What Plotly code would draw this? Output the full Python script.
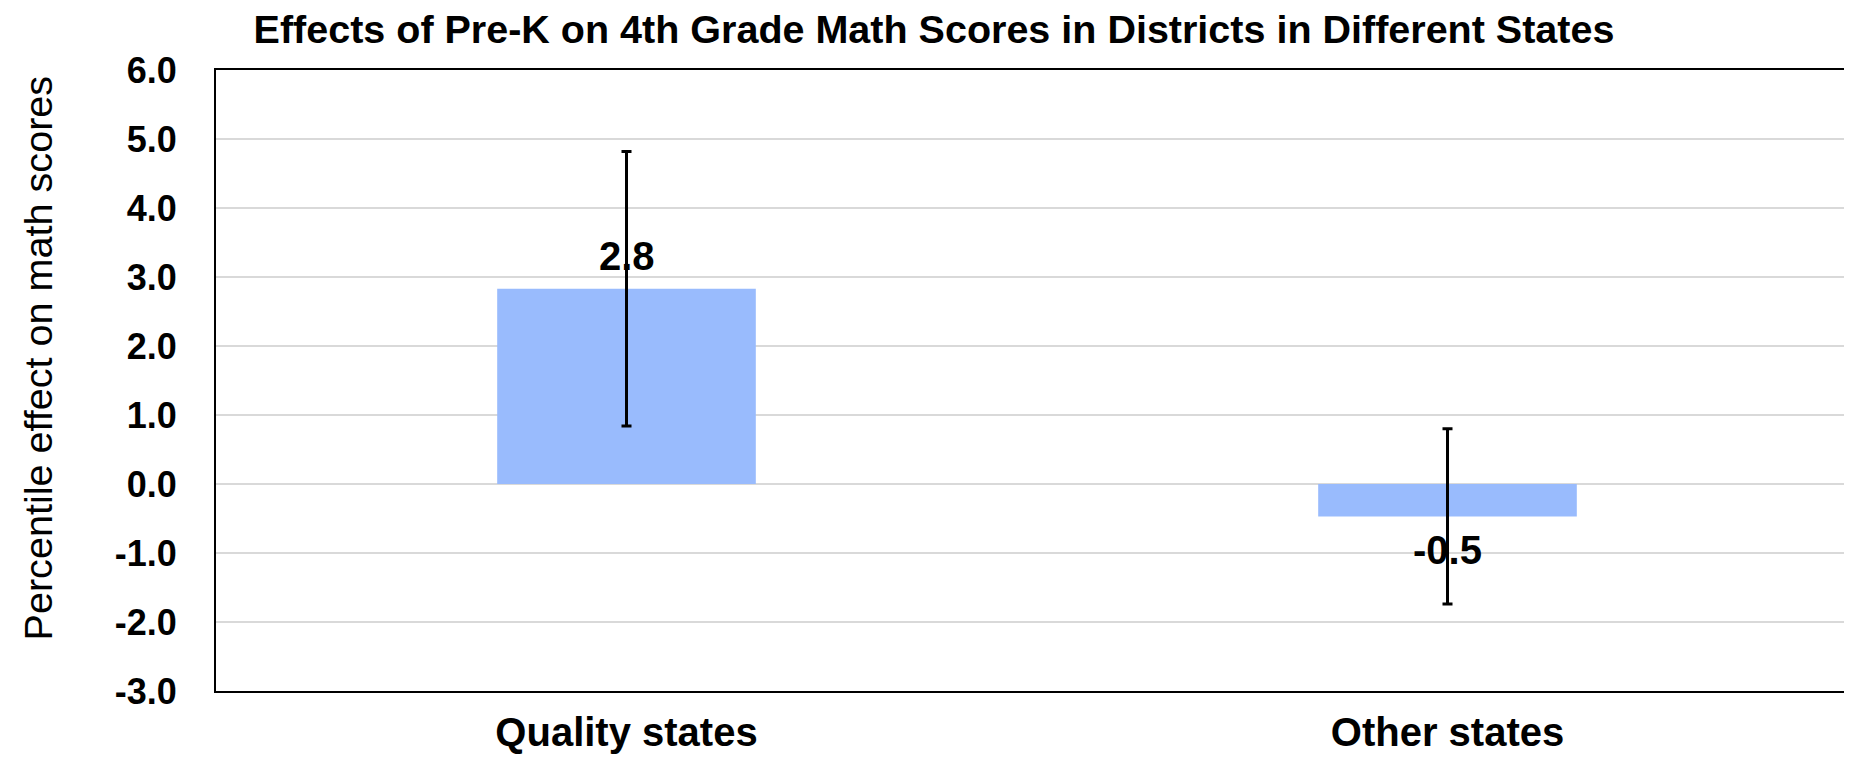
import plotly.graph_objects as go

categories = ["Quality states", "Other states"]
effects = [2.83, -0.47]
errors = [1.99, 1.27]
labels = ["2.8", "-0.5"]
y_ticks = [-3, -2, -1, 0, 1, 2, 3, 4, 5, 6]
y_tick_text = ["-3.0", "-2.0", "-1.0", "0.0", "1.0", "2.0", "3.0", "4.0", "5.0", "6.0"]

FONT = "Arial, Liberation Sans, sans-serif"

fig = go.Figure()
fig.add_trace(go.Bar(
    x=categories,
    y=effects,
    width=0.315,
    marker=dict(color="#99BBFD", line=dict(width=0)),
    error_y=dict(type="data", array=errors, visible=True, color="black",
                 thickness=3, width=5),
    showlegend=False,
))

for cat, val, lab in zip(categories, effects, labels):
    fig.add_annotation(
        x=cat, y=val, text=f"<b>{lab}</b>", showarrow=False,
        yanchor="bottom" if val >= 0 else "top",
        yshift=9 if val >= 0 else -10,
        font=dict(family=FONT, size=40, color="black"),
    )

fig.add_annotation(
    text="Percentile effect on math scores", textangle=-90,
    xref="paper", yref="paper", x=0, y=0.5, xanchor="center", yanchor="middle",
    xshift=-179, yshift=22, showarrow=False,
    font=dict(family=FONT, size=39.6, color="black"),
)

fig.update_layout(
    width=1852, height=757,
    margin=dict(l=208, r=2, t=62, b=74),
    paper_bgcolor="white", plot_bgcolor="white",
    font=dict(family=FONT, color="black"),
    title=dict(text="<b>Effects of Pre-K on 4th Grade Math Scores in Districts in Different States</b>",
               x=0.5, xref="container", xanchor="center",
               y=0.972, yref="container", yanchor="middle",
               font=dict(family=FONT, size=39.5, color="black")),
)
fig.update_xaxes(
    showline=True, linecolor="black", linewidth=2, mirror=True,
    tickfont=dict(family=FONT, size=40, color="black", weight="bold"),
    ticks="outside", ticklen=5, tickcolor="rgba(0,0,0,0)",
    showgrid=False, automargin=False,
)
fig.update_yaxes(
    range=[-3, 6], tickvals=y_ticks, ticktext=y_tick_text,
    showline=True, linecolor="black", linewidth=2, mirror=True,
    showgrid=True, gridcolor="#D9D9D9", gridwidth=2,
    zeroline=True, zerolinecolor="#D9D9D9", zerolinewidth=2,
    ticks="outside", ticklen=30, tickcolor="rgba(0,0,0,0)",
    tickfont=dict(family=FONT, size=36, color="black", weight="bold"),
    automargin=False,
)

fig.write_html("out.html")
